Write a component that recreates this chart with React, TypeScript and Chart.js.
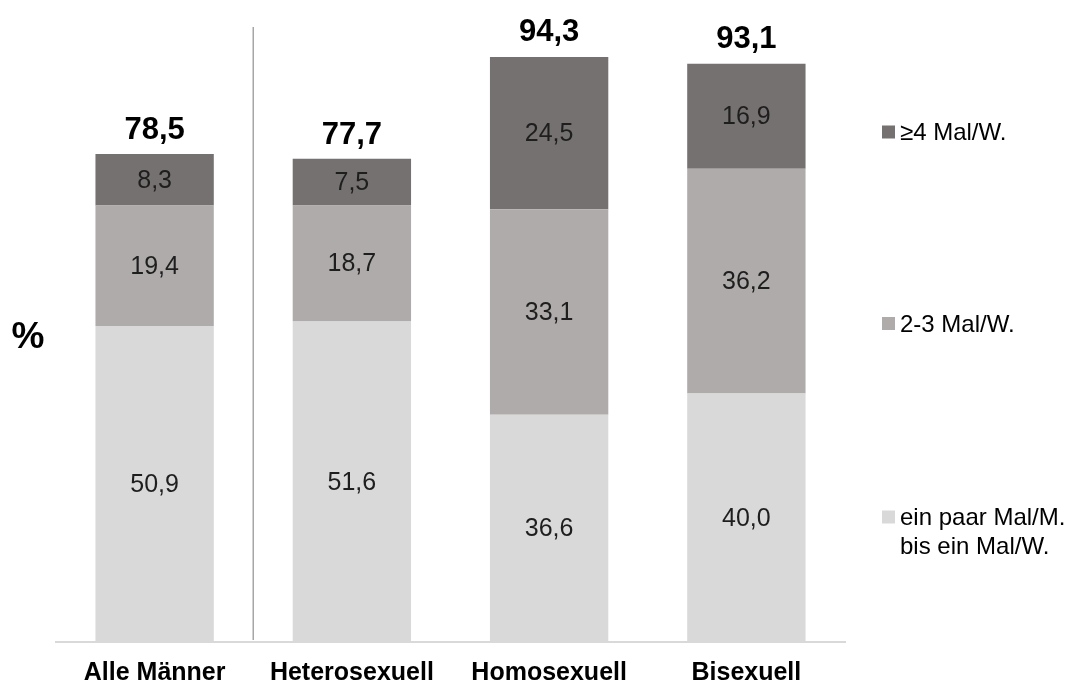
import { useEffect, useRef } from "react";
import { Chart, registerables } from "chart.js";

Chart.register(...registerables);

// Categories and stacked series (percent)
const categories = ["Alle Männer", "Heterosexuell", "Homosexuell", "Bisexuell"];
const fewTimes = [50.9, 51.6, 36.6, 40.0];
const twoToThree = [19.4, 18.7, 33.1, 36.2];
const fourPlus = [8.3, 7.5, 24.5, 16.9];
const totals = [78.5, 77.7, 94.3, 93.1];

const seriesLabels = ["ein paar Mal/M. bis ein Mal/W.", "2-3 Mal/W.", "≥4 Mal/W."];
const legendLines = [["≥4 Mal/W."], ["2-3 Mal/W."], ["ein paar Mal/M.", "bis ein Mal/W."]];
const yTicks = [0, 100];

const COLORS = {
  light: "#D9D9D9",
  mid: "#AFABAB",
  dark: "#767171",
};

const FONT = "'Liberation Sans', Arial, Helvetica, sans-serif";

const fmt = (v: number) => v.toFixed(1).replace(".", ",");

const overlayPlugin = {
  id: "overlay",
  afterDatasetsDraw(chart: any) {
    const { ctx, chartArea } = chart;
    const xs = chart.scales.x;
    const ys = chart.scales.y;
    ctx.save();

    // separator between "Alle Männer" and the subgroups
    const sepX = (xs.getPixelForValue(0) + xs.getPixelForValue(1)) / 2;
    ctx.strokeStyle = "#A6A6A6";
    ctx.lineWidth = 1.5;
    ctx.beginPath();
    ctx.moveTo(sepX, chartArea.top + 6);
    ctx.lineTo(sepX, chartArea.bottom - 2);
    ctx.stroke();

    // values inside the segments
    ctx.font = `25px ${FONT}`;
    ctx.fillStyle = "#1E1E1E";
    ctx.textAlign = "center";
    ctx.textBaseline = "middle";
    chart.data.datasets.forEach((ds: any, di: number) => {
      const meta = chart.getDatasetMeta(di);
      meta.data.forEach((bar: any, i: number) => {
        const v = ds.data[i];
        const cy = (bar.y + bar.base) / 2;
        ctx.fillText(fmt(v), bar.x, cy + 1);
      });
    });

    // totals above the stacks
    ctx.font = `bold 31px ${FONT}`;
    ctx.fillStyle = "#000000";
    totals.forEach((t, i) => {
      const x = xs.getPixelForValue(i);
      const y = ys.getPixelForValue(t);
      ctx.fillText(fmt(t), x, y - 24);
    });

    // axis unit
    ctx.font = `bold 37px ${FONT}`;
    ctx.fillText("%", 28, 338);

    // legend
    const legendColors = [COLORS.dark, COLORS.mid, COLORS.light];
    const legendY = [132, 323.5, 517];
    ctx.font = `24px ${FONT}`;
    ctx.textAlign = "left";
    legendLines.forEach((lines, i) => {
      const cy = legendY[i];
      ctx.fillStyle = legendColors[i];
      ctx.fillRect(882, cy - 6.5, 13, 13);
      ctx.fillStyle = "#000000";
      lines.forEach((line, li) => {
        ctx.fillText(line, 900, cy + 1.5 + li * 29);
      });
    });

    ctx.restore();
  },
};

export default function App() {
  const canvasRef = useRef<HTMLCanvasElement | null>(null);

  useEffect(() => {
    if (!canvasRef.current) return;
    const chart = new Chart(canvasRef.current, {
      type: "bar",
      data: {
        labels: categories,
        datasets: [
          { label: seriesLabels[0], data: fewTimes, backgroundColor: COLORS.light },
          { label: seriesLabels[1], data: twoToThree, backgroundColor: COLORS.mid },
          { label: seriesLabels[2], data: fourPlus, backgroundColor: COLORS.dark },
        ],
      },
      options: {
        responsive: false,
        animation: false,
        devicePixelRatio: 1,
        layout: { padding: { left: 56, right: 241, top: 21, bottom: 0 } },
        datasets: {
          bar: { categoryPercentage: 1, barPercentage: 0.6, borderWidth: 0 },
        },
        plugins: {
          legend: { display: false },
          tooltip: { enabled: false },
          title: { display: false },
        },
        scales: {
          x: {
            stacked: true,
            grid: { display: false, drawTicks: false },
            border: { display: true, color: "#D9D9D9", width: 2 },
            ticks: {
              color: "#000000",
              padding: 16,
              font: { family: FONT, size: 25, weight: "bold" },
              maxRotation: 0,
              autoSkip: false,
            },
            afterFit: (scale: any) => {
              scale.height = 44;
            },
          },
          y: {
            stacked: true,
            display: false,
            min: yTicks[0],
            max: yTicks[1],
          },
        },
      },
      plugins: [overlayPlugin],
    });
    return () => chart.destroy();
  }, []);

  return (
    <div style={{ position: "absolute", left: 0, top: 0, width: 1086, height: 686, background: "#FFFFFF" }}>
      <canvas ref={canvasRef} width={1086} height={686} style={{ display: "block" }} />
    </div>
  );
}
